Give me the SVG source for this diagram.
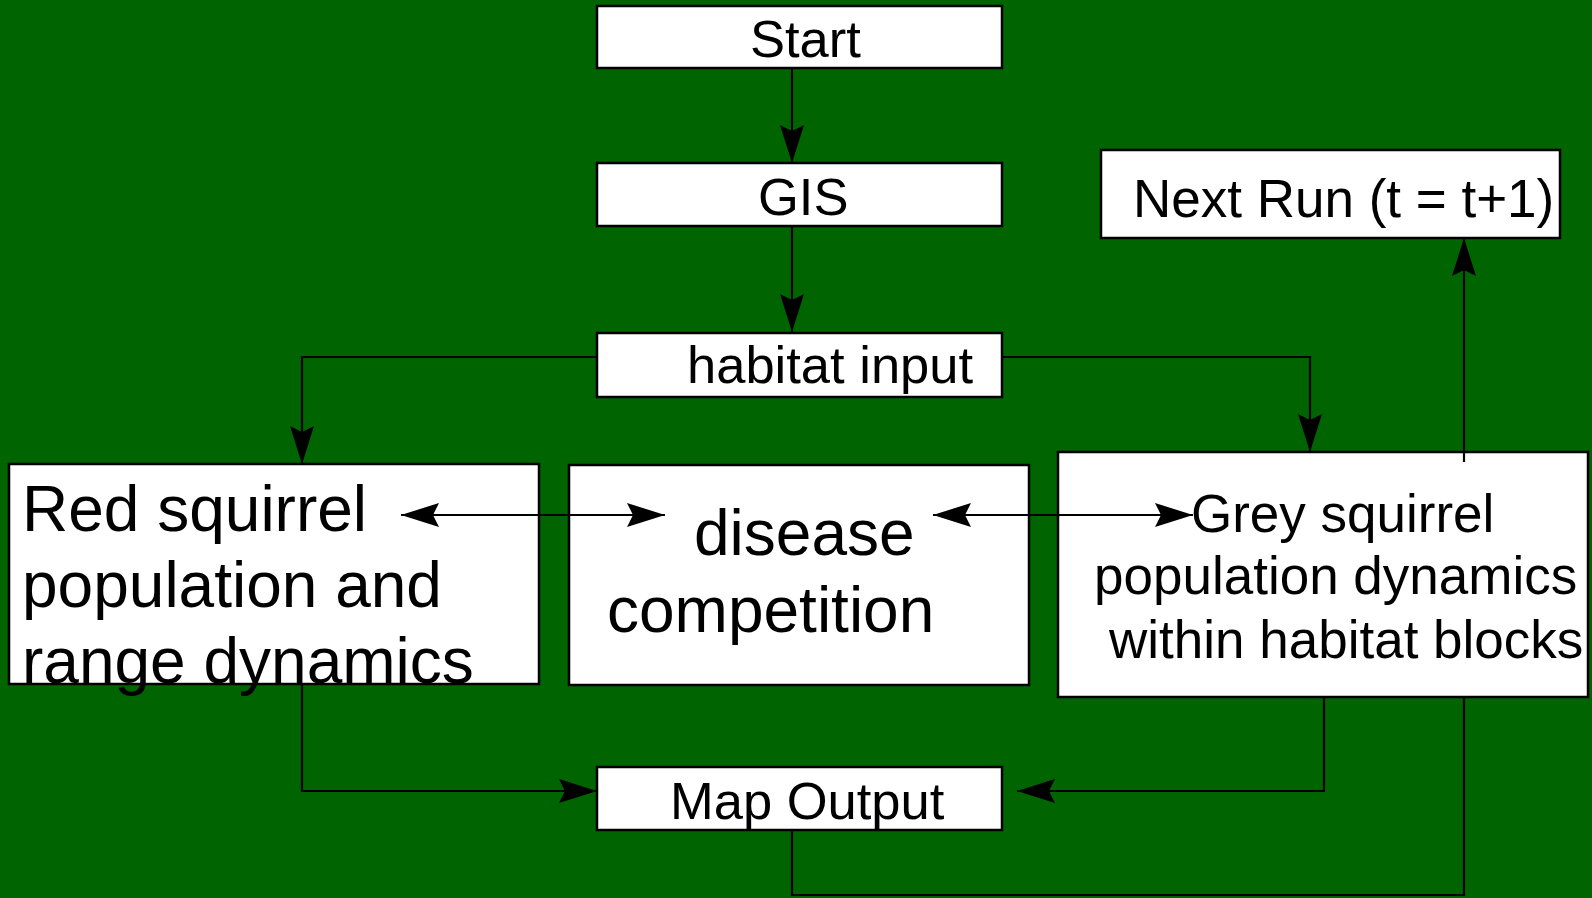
<svg xmlns="http://www.w3.org/2000/svg" width="1592" height="898" viewBox="0 0 1592 898">
  <style>
    .box { fill: #ffffff; stroke: #000000; stroke-width: 2.5; }
    .lbl { font-family: "Liberation Sans", Arial, sans-serif; font-size: 52.5px; fill: #000000; }
    .mid { font-size: 53px; }
    .big { font-size: 64px; }
    .wire { fill: none; stroke: #000000; stroke-width: 2.2; }
  </style>
  <defs>
    <marker id="head" viewBox="0 0 38 24" refX="38" refY="12" markerWidth="38" markerHeight="24" markerUnits="userSpaceOnUse" orient="auto-start-reverse">
      <path d="M0,0 L38,12 L0,24 L6,12 Z" fill="#000000"/>
    </marker>
  </defs>

  <rect x="0" y="0" width="1592" height="898" fill="#006400"/>

  <g id="start">
    <rect class="box" x="597" y="6" width="405" height="62"/>
    <text class="lbl" x="750" y="57">Start</text>
  </g>

  <g id="gis">
    <rect class="box" x="597" y="163" width="405" height="63"/>
    <text class="lbl" x="758" y="215">GIS</text>
  </g>

  <g id="habitat-input">
    <rect class="box" x="597" y="333" width="405" height="64"/>
    <text class="lbl" x="687" y="383">habitat input</text>
  </g>

  <g id="red-squirrel">
    <rect class="box" x="9" y="464" width="530" height="220"/>
    <text class="lbl big" x="22" y="531">Red squirrel</text>
    <text class="lbl big" x="22" y="607">population and</text>
    <text class="lbl big" x="22" y="683">range dynamics</text>
  </g>

  <g id="disease-competition">
    <rect class="box" x="569" y="465" width="460" height="220"/>
    <text class="lbl big" x="694" y="555">disease</text>
    <text class="lbl big" x="607" y="632">competition</text>
  </g>

  <g id="grey-squirrel">
    <rect class="box" x="1058" y="452" width="530" height="245"/>
    <text class="lbl mid" x="1191" y="532">Grey squirrel</text>
    <text class="lbl mid" x="1094" y="594">population dynamics</text>
    <text class="lbl mid" x="1109" y="658">within habitat blocks</text>
  </g>

  <g id="next-run">
    <rect class="box" x="1101" y="150" width="459" height="88"/>
    <text class="lbl mid" x="1133" y="217">Next Run (t = t+1)</text>
  </g>

  <g id="map-output">
    <rect class="box" x="597" y="767" width="405" height="63"/>
    <text class="lbl" x="670" y="819">Map Output</text>
  </g>

  <!-- connectors, drawn over the boxes -->
  <g id="connectors">
    <path class="wire" d="M792,68 L792,163" marker-end="url(#head)"/>
    <path class="wire" d="M792,226 L792,332" marker-end="url(#head)"/>
    <path class="wire" d="M597,357 L302,357 L302,464" marker-end="url(#head)"/>
    <path class="wire" d="M1002,357 L1310,357 L1310,452" marker-end="url(#head)"/>
    <path class="wire" d="M401,515 L665,515" marker-start="url(#head)" marker-end="url(#head)"/>
    <path class="wire" d="M933,515 L1193,515" marker-start="url(#head)" marker-end="url(#head)"/>
    <path class="wire" d="M1464,462 L1464,238" marker-end="url(#head)"/>
    <path class="wire" d="M302,684 L302,791 L597,791" marker-end="url(#head)"/>
    <path class="wire" d="M1324,697 L1324,791 L1017,791" marker-end="url(#head)"/>
    <path class="wire" d="M792,830 L792,895 L1464,895 L1464,697"/>
  </g>
</svg>
